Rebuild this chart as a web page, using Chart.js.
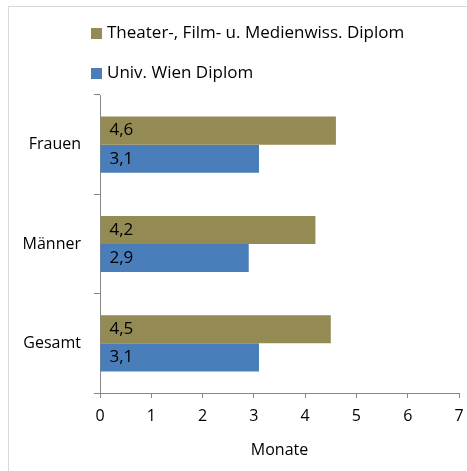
<!DOCTYPE html>
<html>
<head>
<meta charset="utf-8">
<script src="https://cdn.jsdelivr.net/npm/chart.js@4/dist/chart.umd.min.js"></script>
<style>
html,body{margin:0;padding:0;background:#fff;}
#wrap{position:relative;width:467px;height:471px;}
</style>
</head>
<body>
<div id="wrap"><canvas id="c" width="467" height="471"></canvas></div>
<script>
const categories = ["Frauen", "Männer", "Gesamt"];
const seriesNames = ["Theater-, Film- u. Medienwiss. Diplom", "Univ. Wien Diplom"];
const theaterValues = [4.6, 4.2, 4.5];
const wienValues = [3.1, 2.9, 3.1];
const xTicks = [0, 1, 2, 3, 4, 5, 6, 7];
const axisTitle = "Monate";

const FONT = "'Open Sans', 'Noto Sans', sans-serif";
const OLIVE = "#948A54";
const BLUE = "#4A7EBB";

const framePlugin = {
  id: 'frame',
  beforeDraw(chart) {
    const ctx = chart.ctx;
    ctx.save();
    ctx.fillStyle = '#fff';
    ctx.fillRect(0, 0, chart.width, chart.height);
    ctx.strokeStyle = '#d9d9d9';
    ctx.lineWidth = 1;
    ctx.strokeRect(8.5, 6.5, 600, 600);
    ctx.restore();
  }
};

const legendPlugin = {
  id: 'customLegend',
  afterDraw(chart) {
    const ctx = chart.ctx;
    ctx.save();
    ctx.font = "17px " + FONT;
    ctx.textBaseline = 'middle';
    ctx.textAlign = 'left';
    const rows = [33, 73];
    chart.data.datasets.forEach((ds, i) => {
      const y = rows[i];
      ctx.fillStyle = ds.backgroundColor;
      ctx.fillRect(91, y - 5, 11, 11);
      ctx.fillStyle = '#000';
      ctx.fillText(ds.label, 107, y);
    });
    ctx.restore();
  }
};

const labelPlugin = {
  id: 'barLabels',
  afterDatasetsDraw(chart) {
    const ctx = chart.ctx;
    ctx.save();
    ctx.font = "17px " + FONT;
    ctx.fillStyle = '#000';
    ctx.textBaseline = 'middle';
    ctx.textAlign = 'left';
    chart.data.datasets.forEach((ds, i) => {
      const meta = chart.getDatasetMeta(i);
      meta.data.forEach((bar, j) => {
        const txt = ds.data[j].toFixed(1).replace('.', ',');
        ctx.fillText(txt, bar.base + 9, bar.y);
      });
    });
    ctx.restore();
  }
};

new Chart(document.getElementById('c'), {
  type: 'bar',
  data: {
    labels: categories,
    datasets: [
      { label: seriesNames[0], data: theaterValues, backgroundColor: OLIVE, borderWidth: 0,
        categoryPercentage: 0.565, barPercentage: 1.0 },
      { label: seriesNames[1], data: wienValues, backgroundColor: BLUE, borderWidth: 0,
        categoryPercentage: 0.565, barPercentage: 1.0 }
    ]
  },
  options: {
    indexAxis: 'y',
    responsive: false,
    animation: false,
    devicePixelRatio: 1,
    layout: { padding: { left: 0, right: 8, top: 95, bottom: 0 } },
    plugins: {
      legend: { display: false },
      tooltip: { enabled: false },
      title: { display: false }
    },
    scales: {
      x: {
        type: 'linear',
        min: 0, max: 7,
        afterBuildTicks(scale) { scale.ticks = xTicks.map(v => ({ value: v })); },
        afterFit(scale) { scale.height = 78; scale.paddingRight = 0; scale.paddingLeft = 0; },
        grid: { drawOnChartArea: false, drawTicks: true, tickLength: 5, color: '#868686' },
        border: { display: true, color: '#868686' },
        ticks: { color: '#000', font: { family: FONT, size: 16 }, padding: 9, maxRotation: 0 },
        title: { display: true, text: axisTitle, color: '#000', font: { family: FONT, size: 16 },
                 padding: { top: 0, bottom: 11 } }
      },
      y: {
        afterFit(scale) { scale.width = 100; },
        grid: { drawOnChartArea: false, drawTicks: true, tickLength: 6, color: '#868686', offset: true },
        border: { display: true, color: '#868686' },
        ticks: { color: '#000', font: { family: FONT, size: 16 }, padding: 13 }
      }
    }
  },
  plugins: [framePlugin, legendPlugin, labelPlugin]
});
</script>
</body>
</html>
